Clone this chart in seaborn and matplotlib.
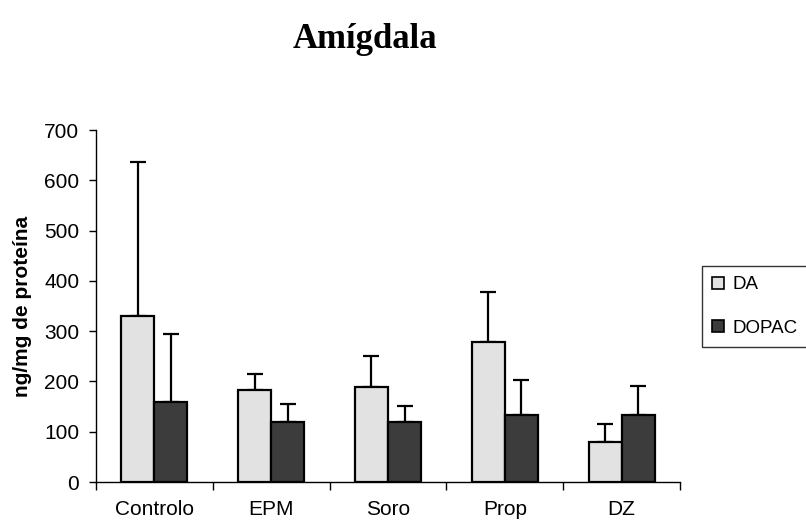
import numpy as np
import pandas as pd
import matplotlib
matplotlib.use("Agg")
import matplotlib.pyplot as plt
import seaborn as sns

categories = ["Controlo", "EPM", "Soro", "Prop", "DZ"]
series = ["DA", "DOPAC"]
da_values = [330, 183, 188, 279, 80]
dopac_values = [159, 119, 119, 133, 133]
da_err = [306, 32, 62, 99, 36]
dopac_err = [136, 36, 33, 70, 58]
y_ticks = [0, 100, 200, 300, 400, 500, 600, 700]

sns.set_style("ticks")
plt.rcParams["font.family"] = ["Liberation Sans", "DejaVu Sans"]
plt.rcParams.update({"text.color": "black", "axes.labelcolor": "black",
                     "xtick.color": "black", "ytick.color": "black",
                     "axes.edgecolor": "black"})

df = pd.DataFrame({
    "cat": categories * 2,
    "serie": [series[0]] * 5 + [series[1]] * 5,
    "val": da_values + dopac_values,
})

W, H = 806, 522
fig = plt.figure(figsize=(W / 100, H / 100), dpi=100)
ax = fig.add_axes([96 / W, 1 - 482 / H, (680 - 96) / W, (482 - 130) / H])

sns.barplot(data=df, x="cat", y="val", hue="serie", order=categories,
            hue_order=series, palette=["#e2e2e2", "#3c3c3c"],
            width=0.566, gap=0, errorbar=None, edgecolor="black",
            linewidth=1.6, saturation=1, ax=ax)

bar_containers = list(ax.containers)
errs = [da_err, dopac_err]
for cont, err in zip(bar_containers, errs):
    xs = [b.get_x() + b.get_width() / 2 for b in cont]
    ys = [b.get_height() for b in cont]
    ax.errorbar(xs, ys, yerr=[np.zeros(len(err)), err], fmt="none",
                ecolor="black", elinewidth=1.6, capsize=5.5, capthick=1.6,
                zorder=1)
for cont in bar_containers:
    for b in cont:
        b.set_zorder(2)

handles, labels = ax.get_legend_handles_labels()
ax.get_legend().remove()

ax.set_xlim(-0.5, 4.5)
ax.set_ylim(0, 700)
ax.set_yticks(y_ticks)
ax.set_yticklabels([str(v) for v in y_ticks], fontsize=15)
ax.set_xticks(range(len(categories)))
ax.set_xticklabels(categories, fontsize=15)
ax.tick_params(axis="x", which="major", length=0, pad=13)
ax.set_xticks(np.arange(-0.5, 5, 1), minor=True)
ax.tick_params(axis="x", which="minor", length=6, width=1, direction="out", color="black")
ax.tick_params(axis="y", length=5, width=1, direction="out", pad=7, color="black")
ax.set_xlabel("")
ax.set_ylabel("ng/mg de proteína", fontsize=15, fontweight="bold", labelpad=9)
sns.despine(ax=ax)
for s in ["left", "bottom"]:
    ax.spines[s].set_color("black")
    ax.spines[s].set_linewidth(1.0)

fig.text(365 / W, 1 - 40 / H, "Amígdala", fontsize=25, fontweight="bold",
         family=["Liberation Serif", "DejaVu Serif"], ha="center", va="center",
         color="black")

leg = fig.legend(handles, labels, loc="upper left",
                 bbox_to_anchor=(702 / W, 1 - 266 / H), frameon=True,
                 fancybox=False, edgecolor="black", fontsize=13.5,
                 handlelength=0.6, handleheight=0.6, handletextpad=0.5,
                 labelspacing=1.4, borderpad=0.55, borderaxespad=0)
leg.get_frame().set_linewidth(1.0)
for p in leg.get_patches():
    p.set_linewidth(1.2)

fig.savefig("out.png", dpi=100)
